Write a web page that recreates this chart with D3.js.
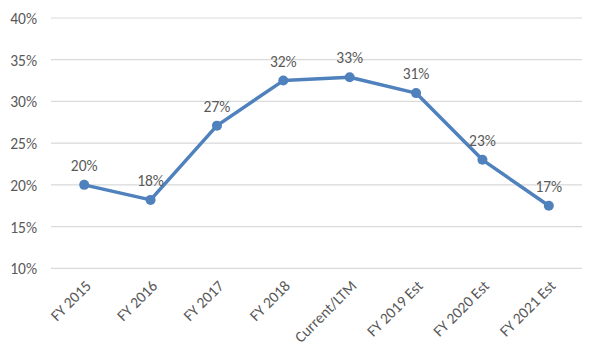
<!DOCTYPE html>
<html><head><meta charset="utf-8">
<script src="https://cdn.jsdelivr.net/npm/d3@7"></script>
<style>body{margin:0;background:#fff}text{font-family:Carlito,Lato,"Open Sans",sans-serif}</style>
</head><body><svg id="c" width="600" height="357"></svg>
<script>
const categories = ["FY 2015","FY 2016","FY 2017","FY 2018","Current/LTM","FY 2019 Est","FY 2020 Est","FY 2021 Est"];
const values = [0.200,0.182,0.271,0.325,0.329,0.310,0.230,0.175];
const labels = ["20%","18%","27%","32%","33%","31%","23%","17%"];
const yTicks = [0.10,0.15,0.20,0.25,0.30,0.35,0.40];

const svg = d3.select("#c");
const x = d3.scaleBand().domain(categories).range([51,582]);
const y = d3.scaleLinear().domain([0.10,0.40]).range([268.3,18]);
const grey = "#595959";
const fs = "15.5px";

svg.append("g").selectAll("line").data(yTicks).join("line")
  .attr("x1",51).attr("x2",582).attr("y1",d=>y(d)).attr("y2",d=>y(d))
  .attr("stroke","#d9d9d9").attr("stroke-width",1.2);

const yAxis = d3.axisLeft(y).tickValues(yTicks).tickFormat(d3.format(".0%")).tickSize(0).tickPadding(0);
const gy = svg.append("g").attr("transform","translate(37,0)").call(yAxis);
gy.select(".domain").remove();
gy.selectAll("text").attr("fill",grey).style("font-size",fs).attr("dy","0.35em");

const xAxis = d3.axisBottom(x).tickSize(0).tickPadding(0);
const gx = svg.append("g").attr("transform","translate(0,281)").call(xAxis);
gx.select(".domain").remove();
gx.selectAll("text").attr("fill",grey).style("font-size",fs)
  .attr("text-anchor","end").attr("dy","0.35em")
  .attr("transform","translate(4,2) rotate(-45)");

const cx = d => x(d) + x.bandwidth()/2;
const line = d3.line().x((d,i)=>cx(categories[i])).y(d=>y(d));
svg.append("path").datum(values).attr("d",line).attr("fill","none")
  .attr("stroke","#4f81bd").attr("stroke-width",3.5).attr("stroke-linejoin","round");
svg.append("g").selectAll("circle").data(values).join("circle")
  .attr("cx",(d,i)=>cx(categories[i])).attr("cy",d=>y(d)).attr("r",5).attr("fill","#4f81bd");
svg.append("g").selectAll("text").data(values).join("text")
  .attr("x",(d,i)=>cx(categories[i])).attr("y",d=>y(d)-14)
  .attr("text-anchor","middle").attr("fill",grey).style("font-size",fs)
  .text((d,i)=>labels[i]);
</script></body></html>
